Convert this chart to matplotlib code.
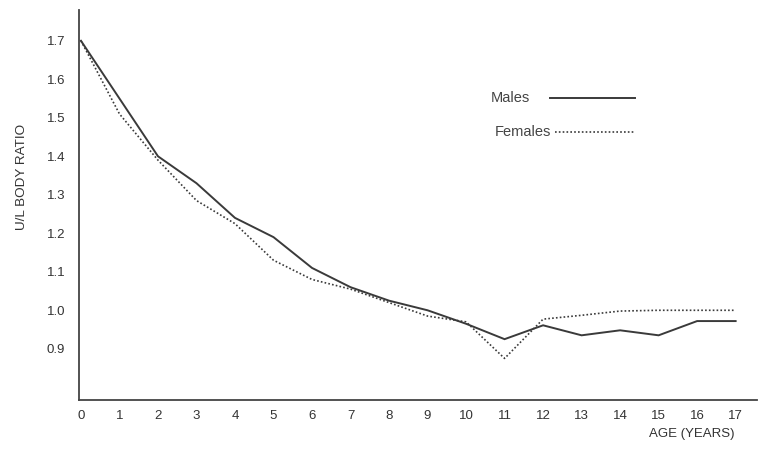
import matplotlib
matplotlib.use('Agg')
import matplotlib.pyplot as plt
import numpy as np

plt.rcParams['font.family'] = ['Liberation Sans', 'DejaVu Sans']

# values
ages = list(range(18))
males = [1.70, 1.55, 1.40, 1.33, 1.24, 1.19, 1.11, 1.06, 1.025, 1.00, 0.965,
         0.925, 0.961, 0.935, 0.948, 0.935, 0.972, 0.972]
females = [1.70, 1.51, 1.39, 1.285, 1.225, 1.13, 1.08, 1.055, 1.02, 0.985, 0.97,
           0.875, 0.977, 0.987, 0.998, 1.00, 1.00, 1.00]
yticks = [0.9, 1.0, 1.1, 1.2, 1.3, 1.4, 1.5, 1.6, 1.7]

fig = plt.figure(figsize=(7.65, 4.53), dpi=100)
ax = fig.add_axes([0.1033, 0.117, 0.886, 0.861])

col = '#3a3a3a'
ax.plot(ages, males, color=col, lw=1.4, solid_joinstyle='miter')
ax.plot(ages, females, color=col, lw=1.2, ls=(0, (1, 1.3)))

ax.set_xlim(-0.05, 17.55)
ax.set_ylim(0.767, 1.78)
ax.set_xticks(ages)
ax.set_yticks(yticks)
ax.set_yticklabels(['%.1f' % v for v in yticks])
ax.tick_params(length=0, labelsize=9.5, colors='#333333')
ax.tick_params(axis='y', pad=10)
ax.tick_params(axis='x', pad=7)
for s in ['top', 'right']:
    ax.spines[s].set_visible(False)
for s in ['left', 'bottom']:
    ax.spines[s].set_color('#444444')
    ax.spines[s].set_linewidth(1.3)

fig.text(0.029, 0.61, 'U/L BODY RATIO', rotation=90, fontsize=9.7,
         color='#333333', ha='center', va='center')
fig.text(0.849, 0.028, 'AGE (YEARS)', fontsize=9.5, color='#333333',
         ha='left', va='bottom')

# legend drawn by hand, as in the original
fig.text(0.641, 0.783, 'Males', fontsize=10.5, color='#444444', va='center')
fig.add_artist(plt.Line2D([0.719, 0.83], [0.783, 0.783], color=col, lw=1.4))
fig.text(0.647, 0.708, 'Females', fontsize=10.5, color='#444444', va='center')
fig.add_artist(plt.Line2D([0.725, 0.83], [0.708, 0.708], color=col, lw=1.2,
                          ls=(0, (1, 1.3))))

fig.savefig('out.png', dpi=100)
